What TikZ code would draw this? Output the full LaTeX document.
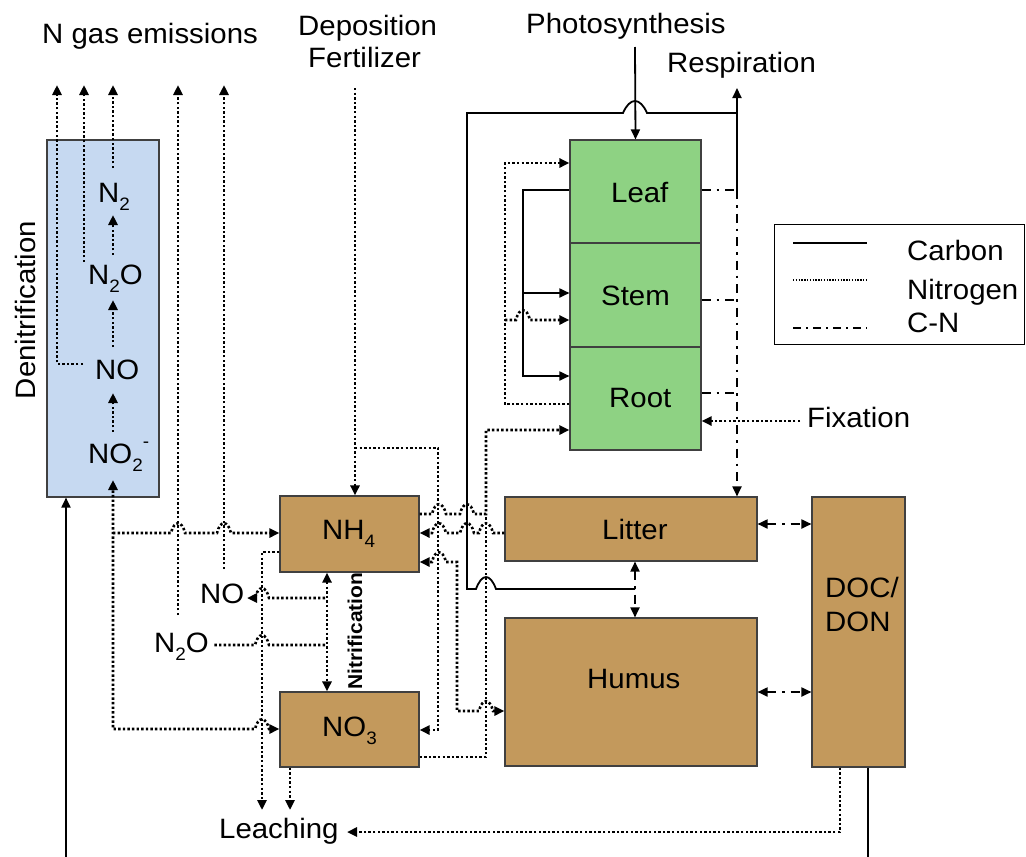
\documentclass[tikz,border=0pt]{standalone}
\usepackage{fontspec}
\setmainfont{Liberation Sans}[FakeStretch=1.05]
\usetikzlibrary{arrows.meta}
\definecolor{bluec}{HTML}{C6D9F1}
\definecolor{tanc}{HTML}{C3995C}
\definecolor{leafc}{HTML}{8ED283}
\definecolor{edgec}{HTML}{404040}
\newcommand\chsub[1]{\raisebox{-0.32em}{\fontsize{18}{18}\selectfont #1}}
\newcommand\chsup[1]{\raisebox{0.55em}{\fontsize{18}{18}\selectfont #1}}
\newcommand\hpR[2]{-- ({#1-7},#2) .. controls ({#1-4},{#2-13}) and ({#1+4},{#2-13}) .. ({#1+7},#2)}
\newcommand\hpL[2]{-- ({#1+7},#2) .. controls ({#1+4},{#2-13}) and ({#1-4},{#2-13}) .. ({#1-7},#2)}
\begin{document}
\begin{tikzpicture}[x=1pt,y=-1pt, font=\fontsize{28}{33}\selectfont,
  >={Triangle[length=10pt,width=9pt]},
  box/.style={draw=edgec,line width=1.1pt,inner sep=0pt},
  carb/.style={line width=1.8pt},
  nitro/.style={line width=2.6pt,dash pattern=on 2.4pt off 2.2pt},
  cn/.style={line width=1.8pt,dash pattern=on 9pt off 6pt on 2.5pt off 6pt},
  lbl/.style={anchor=base west,inner sep=0pt}]
\useasboundingbox (0,0) rectangle (1026,857);

% boxes
\node[box,fill=bluec,minimum width=112pt,minimum height=357pt] (den) at (103,318.5) {};
\node[box,fill=tanc,minimum width=139pt,minimum height=76pt] (nh4) at (349.5,534) {};
\node[box,fill=tanc,minimum width=139pt,minimum height=75pt] (no3) at (349.5,729.5) {};
\node[box,fill=leafc,minimum width=131pt,minimum height=103pt] (leaf) at (635.5,191.5) {};
\node[box,fill=leafc,minimum width=131pt,minimum height=104pt] (stem) at (635.5,295) {};
\node[box,fill=leafc,minimum width=131pt,minimum height=103pt] (root) at (635.5,398.5) {};
\node[box,fill=tanc,minimum width=252pt,minimum height=64pt] (litter) at (631,529) {};
\node[box,fill=tanc,minimum width=252pt,minimum height=148pt] (humus) at (631,692) {};
\node[box,fill=tanc,minimum width=93pt,minimum height=270pt] (doc) at (858.5,632) {};
\node[box,draw=black,line width=1pt,minimum width=250pt,minimum height=120pt] (leg) at (899,284) {};

% labels
\node[lbl] (tleaf) at (611,202) {Leaf};
\node[lbl] (tstem) at (601,305) {Stem};
\node[lbl] (troot) at (609,407) {Root};
\node[lbl] (tlitter) at (602,539) {Litter};
\node[lbl] (thumus) at (587,688) {Humus};
\node[lbl] (tnh4) at (322,539) {NH\chsub{4}};
\node[lbl] (tno3) at (322,736) {NO\chsub{3}};
\node[lbl] (tdoc) at (825,597) {DOC/};
\node[lbl] (tdon) at (825,631) {DON};
\node[lbl] (tngas) at (42,43) {N gas emissions};
\node[lbl] (tdep) at (298,35) {Deposition};
\node[lbl] (tfert) at (308,67) {Fertilizer};
\node[lbl] (tphot) at (526,33) {Photosynthesis};
\node[lbl] (tresp) at (667,72) {Respiration};
\node[lbl] (tfix) at (807,427) {Fixation};
\node[lbl] (tleach) at (219,838) {Leaching};
\node[lbl] (tno) at (200,603) {NO};
\node[lbl] (tn2o) at (154,652) {N\chsub{2}O};
\node[lbl] (tn2) at (98,202) {N\chsub{2}};
\node[lbl] (tn2ob) at (88,284) {N\chsub{2}O};
\node[lbl] (tnob) at (95,379) {NO};
\node[lbl] (tno2) at (88,463) {NO\chsub{2}\chsup{-}};
\node[rotate=90] (tden) at (25,310) {Denitrification};
\node[rotate=90,font=\fontsize{20}{24}\selectfont\bfseries] (tnitr) at (355,631) {Nitrification};
\node[lbl] (tcarb) at (907,260) {Carbon};
\node[lbl] (tnitro) at (907,299) {Nitrogen};
\node[lbl] (tcn) at (907,332) {C-N};

% denitrification chain
\draw[nitro,->] (113,432) -- (113,393);
\draw[nitro,->] (113,347) -- (113,300);
\draw[nitro,->] (113,255) -- (113,215);
\draw[nitro,->] (113,168) -- (113,85);
\draw[nitro,->] (83,364) -- (57,364) -- (57,85);
\draw[nitro,->] (84,262) -- (84,85);

% emissions from nitrification
\draw[nitro,->] (178,615) -- (178,85);
\draw[nitro,->] (224,569) -- (224,85);

% left network
\draw[nitro,->] (113,533) \hpR{178}{533} \hpR{224}{533} -- (nh4.west |- 0,533);
\draw[nitro,<->] (no3.west |- 0,729) \hpL{262}{729} -- (113,729) -- (113,480);
\draw[nitro,->] (nh4.west |- 0,552) -- (262,552) -- (262,810);
\draw[nitro,->] (no3.south -| 290,0) -- (290,810);
\draw[nitro,->] (325,598) \hpL{262}{598} -- (247,598);
\draw[nitro] (325,645) \hpL{262}{645} -- (213,645);
\draw[nitro,<->] (nh4.south -| 327,0) -- (no3.north -| 327,0);

% deposition
\draw[nitro,->] (355,88) -- (nh4.north -| 355,0);
\draw[nitro,->] (355,448) -- (438,448) -- (438,730) -- (no3.east |- 0,730);

% uptake
\draw[nitro,->] (nh4.east |- 0,514) \hpR{439}{514} \hpR{467}{514} -- (486,514) -- (486,430) -- (root.west |- 0,430);
\draw[nitro] (no3.east |- 0,757) -- (486,757) -- (486,514);
\draw[nitro,->] (litter.west |- 0,533) \hpL{486}{533} \hpL{467}{533} \hpL{439}{533} -- (nh4.east |- 0,533);
\draw[nitro,<->] (humus.west |- 0,711) \hpL{486}{711} -- (457,711) -- (457,562) \hpL{439}{562} -- (nh4.east |- 0,562);

% carbon
\draw[carb] (635,589) -- (496,589) .. controls (490,573) and (482,573) .. (476,589) -- (467,589) -- (467,113) -- (623,113) .. controls (630,97) and (640,97) .. (647,113) -- (737,113);
\draw[carb,->] (737,190) -- (737,88);
\draw[carb,->] (635,47) -- (leaf.north);

% plant internal
\draw[carb,->] (leaf.west |- 0,190) -- (523,190) -- (523,376) -- (root.west |- 0,376);
\draw[carb,->] (523,293) -- (stem.west |- 0,293);
\draw[nitro,->] (root.west |- 0,404) -- (505,404) -- (505,163) -- (leaf.west |- 0,163);
\draw[nitro,->] (505,320) \hpR{523}{320} -- (stem.west |- 0,320);

% C-N litterfall
\draw[cn] (leaf.east |- 0,190) -- (737,190);
\draw[cn] (stem.east |- 0,300) -- (737,300);
\draw[cn] (root.east |- 0,393) -- (737,393);
\draw[cn,->] (737,190) -- (litter.north -| 737,0);
\draw[nitro,->] (800,421) -- (root.east |- 0,421);

% litter humus doc
\draw[cn,<->] (litter.south -| 635,0) -- (humus.north -| 635,0);
\draw[cn,<->] (litter.east |- 0,524) -- (doc.west |- 0,524);
\draw[cn,<->] (humus.east |- 0,692) -- (doc.west |- 0,692);

% bottom
\draw[nitro,->] (doc.south -| 840,0) -- (840,832) -- (347,832);
\draw[carb] (doc.south -| 868,0) -- (868,857);
\draw[carb,->] (66,857) -- (den.south -| 66,0);

% legend lines
\draw[carb] (793,243) -- (867,243);
\draw[line width=1.4pt,dash pattern=on 1.4pt off 1.4pt] (793,280) -- (867,280);
\draw[line width=1.6pt,dash pattern=on 8pt off 5pt on 2pt off 5pt] (793,328) -- (867,328);
\end{tikzpicture}
\end{document}
